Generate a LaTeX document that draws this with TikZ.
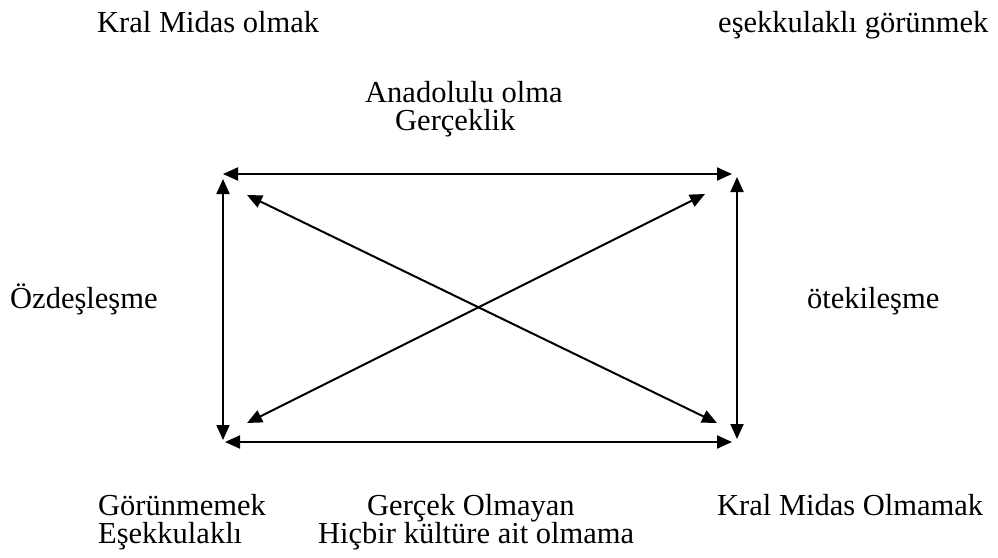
\documentclass[tikz,border=0pt]{standalone}
\usepackage{fontspec}
\setmainfont{Liberation Serif}
\usetikzlibrary{arrows.meta}
\newcommand{\twolines}[3]{\vtop{\baselineskip=#1\lineskiplimit=-100pt\lineskip=0pt\hbox{#2}\hbox{#3}}}
\begin{document}
\begin{tikzpicture}[x=1pt,y=-1pt,
  lbl/.style={anchor=base west,inner sep=0pt,font=\fontsize{30.5}{32}\selectfont},
  link/.style={line width=2pt,{Triangle[length=15pt,width=13pt]}-{Triangle[length=15pt,width=13pt]}}]
\useasboundingbox (0,0) rectangle (998,557);
% corner points
\coordinate (tl) at (223,174);
\coordinate (tr) at (732,174);
\coordinate (lt) at (223,179);
\coordinate (lb) at (223,440);
\coordinate (rt) at (737,177);
\coordinate (rb) at (737,439);
\coordinate (bl) at (225,442);
\coordinate (br) at (732,442);
\coordinate (d1a) at (247,195);
\coordinate (d1b) at (717,423);
\coordinate (d2a) at (705,194);
\coordinate (d2b) at (247,423);
% labels
\node[lbl] (kmo) at (97,32) {Kral Midas olmak};
\node[lbl] (egor) at (718,32) {eşekkulaklı görünmek};
\node[lbl] (ana) at (365,102) {\twolines{28pt}{Anadolulu olma}{\hskip30pt Gerçeklik}};
\node[lbl] (ozd) at (10,308) {Özdeşleşme};
\node[lbl] (ote) at (807,308) {ötekileşme};
\node[lbl] (gor) at (98,515) {\twolines{28pt}{Görünmemek}{Eşekkulaklı}};
\node[lbl] (gol) at (318,515) {\twolines{28pt}{\hskip49pt Gerçek Olmayan}{Hiçbir kültüre ait olmama}};
\node[lbl] (kmol) at (717,515) {Kral Midas Olmamak};
% connectors
\draw[link] (tl) -- (tr);
\draw[link] (bl) -- (br);
\draw[link] (lt) -- (lb);
\draw[link] (rt) -- (rb);
\draw[link] (d1a) -- (d1b);
\draw[link] (d2a) -- (d2b);
\end{tikzpicture}
\end{document}
